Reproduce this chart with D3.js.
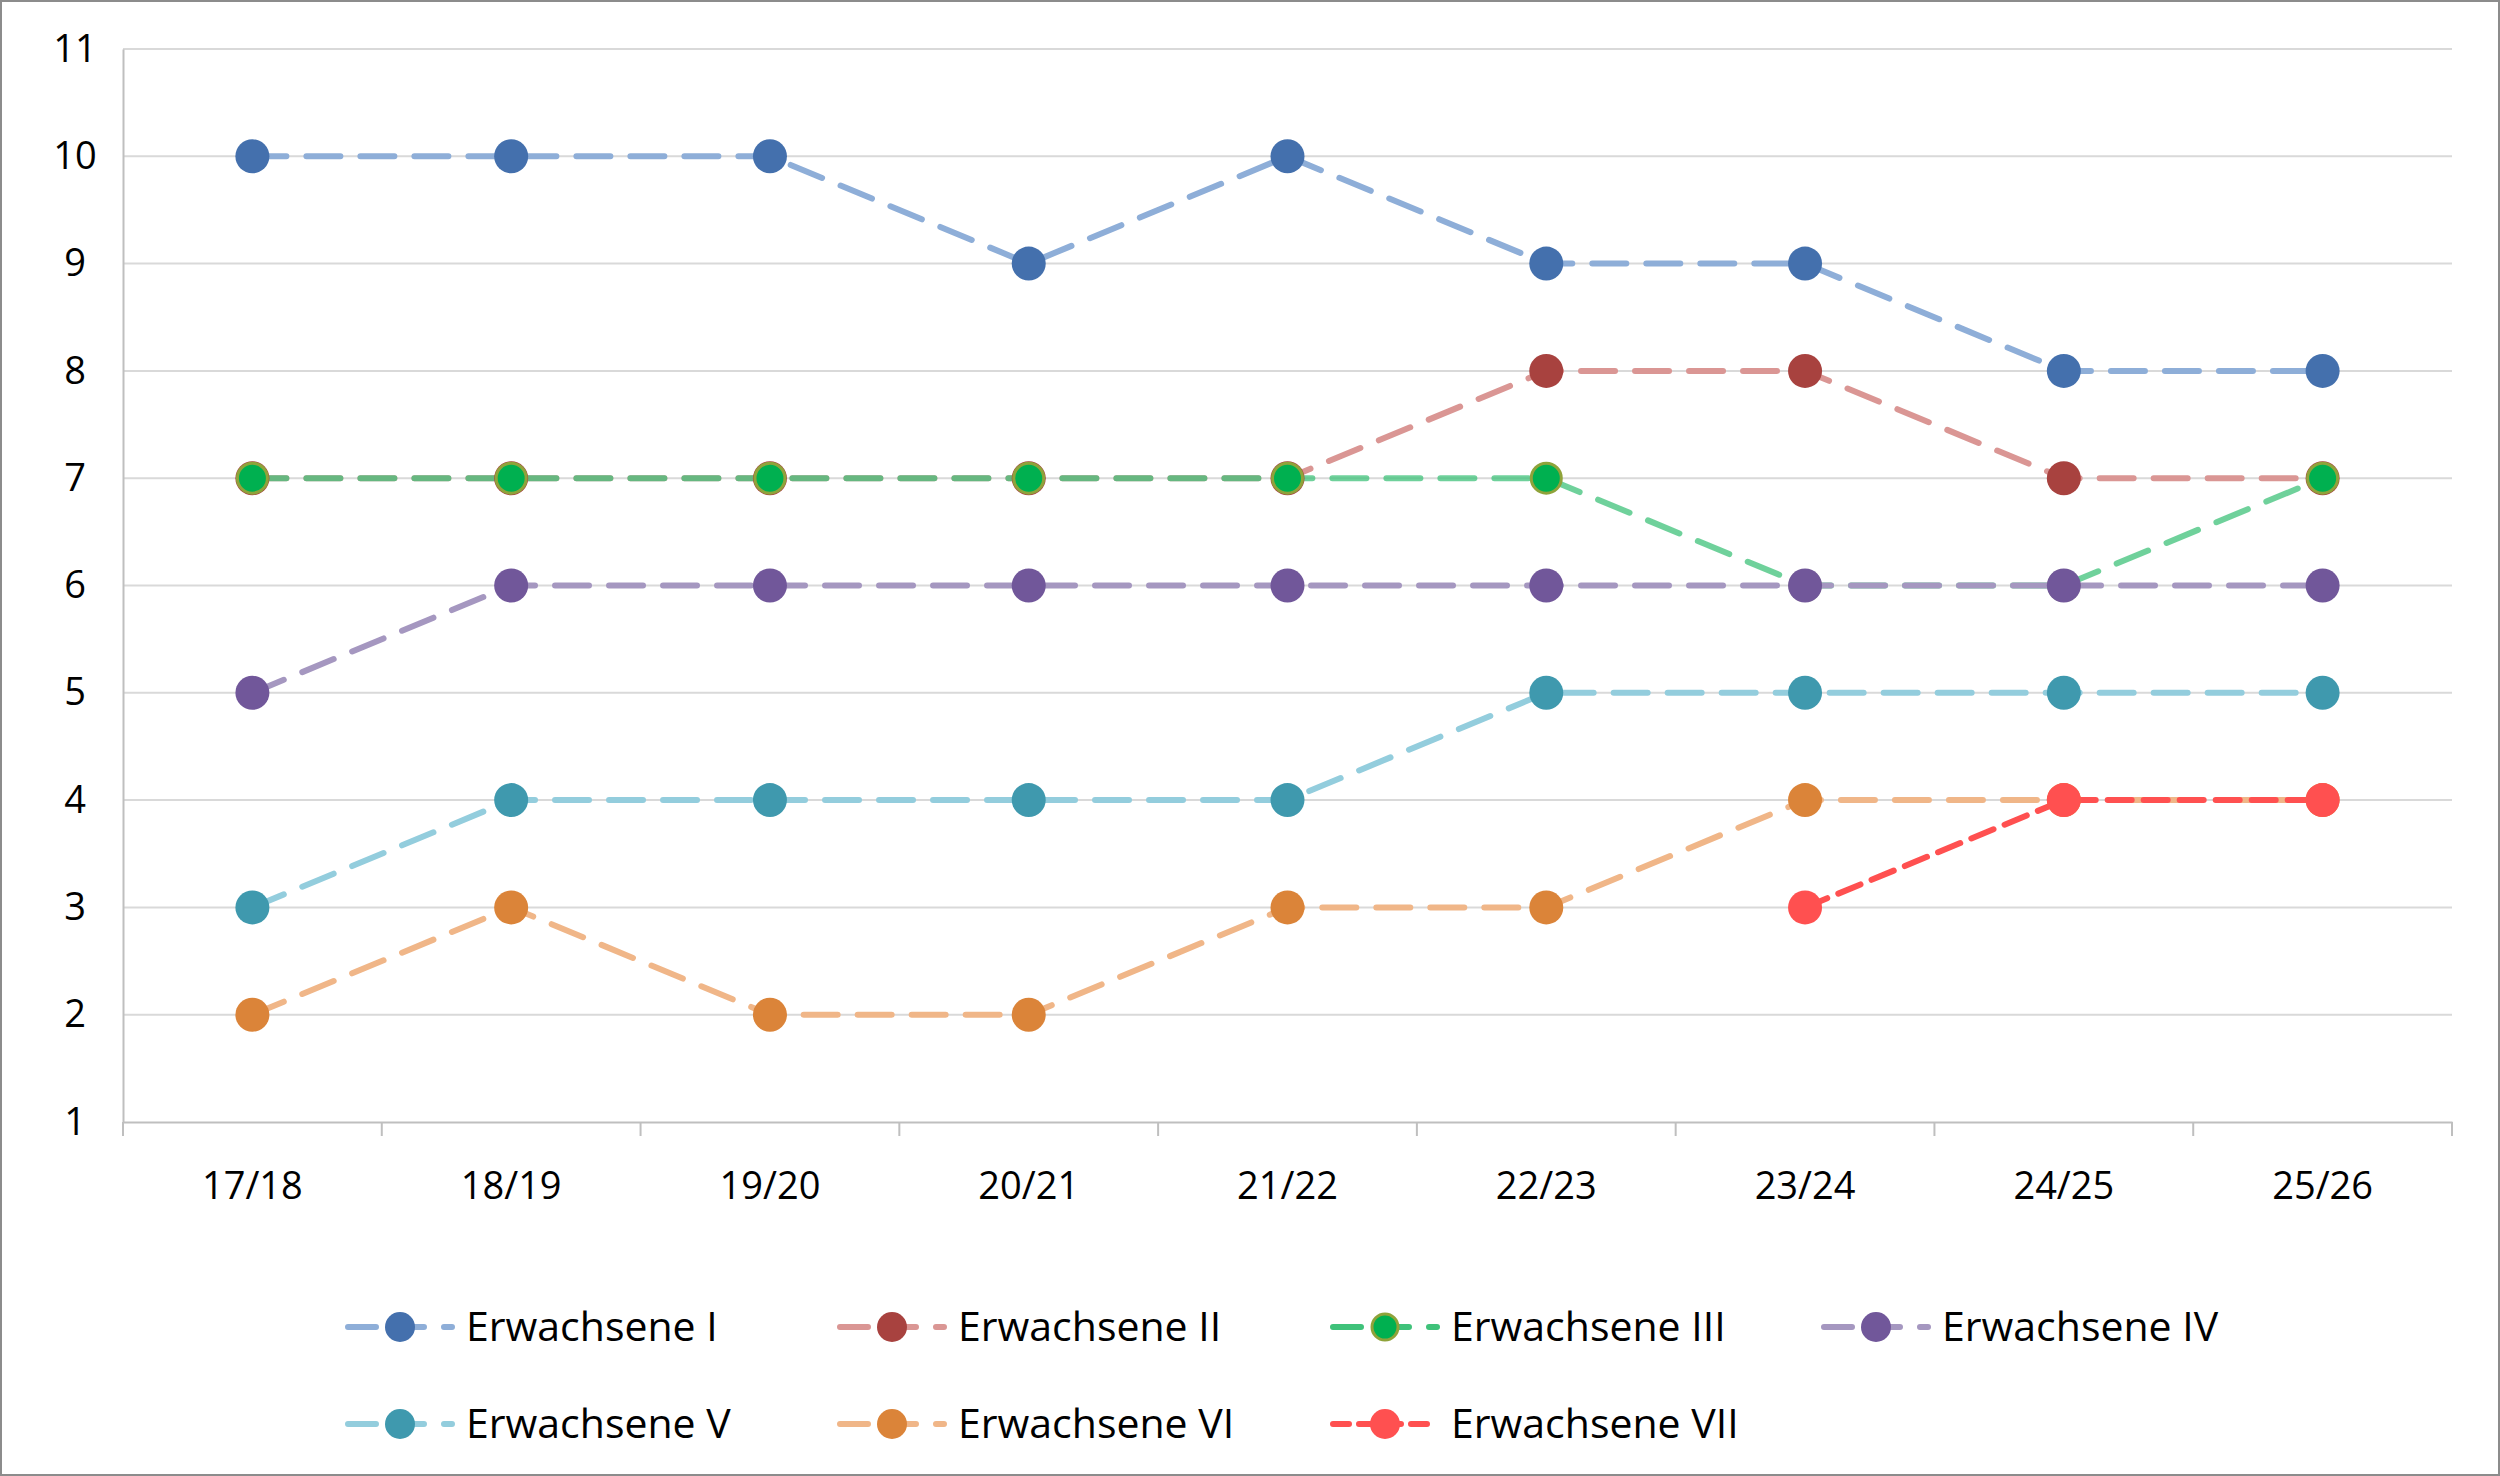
<!DOCTYPE html>
<html><head><meta charset="utf-8">
<script src="https://cdn.jsdelivr.net/npm/d3@7"></script>
<style>body{margin:0;background:#fff}svg{display:block;font-family:"Open Sans",sans-serif}</style>
</head><body><svg id="c" width="2500" height="1476"></svg>
<script>
var seasons = ["17/18","18/19","19/20","20/21","21/22","22/23","23/24","24/25","25/26"];
var names = ["Erwachsene I","Erwachsene II","Erwachsene III","Erwachsene IV","Erwachsene V","Erwachsene VI","Erwachsene VII"];
var valsI   = [10,10,10,9,10,9,9,8,8];
var valsII  = [7,7,7,7,7,8,8,7,7];
var valsIII = [7,7,7,7,7,7,6,6,7];
var valsIV  = [5,6,6,6,6,6,6,6,6];
var valsV   = [3,4,4,4,4,5,5,5,5];
var valsVI  = [2,3,2,2,3,3,4,4,4];
var valsVII = [null,null,null,null,null,null,3,4,4];
var yTicks = [1,2,3,4,5,6,7,8,9,10,11];

var series = [
  {name:names[0], v:valsI,   line:"#8eaed8", dot:"#4470ad"},
  {name:names[1], v:valsII,  line:"#da9694", dot:"#a8423f"},
  {name:names[2], v:valsIII, line:"#3fc27a", dot:"#00b050", stroke:"#8fa33a", op:0.75},
  {name:names[3], v:valsIV,  line:"#a597c0", dot:"#71579a"},
  {name:names[4], v:valsV,   line:"#93cddd", dot:"#3f99ae"},
  {name:names[5], v:valsVI,  line:"#f0b688", dot:"#db8439"},
  {name:names[6], v:valsVII, line:"#ff5050", dot:"#ff5050", dash:"24,12"}
];

var svg = d3.select("#c");
svg.append("rect").attr("x",1).attr("y",1).attr("width",2498).attr("height",1474)
  .attr("fill","#fff").attr("stroke","#8c8c8c").attr("stroke-width",2);

var L=123, R=2452, T=49, B=1122;
var x = d3.scaleBand().domain(seasons).range([L,R]);
var y = d3.scaleLinear().domain([1,11]).range([B,T]);

svg.append("g").selectAll("line").data(yTicks.slice(1)).join("line")
  .attr("x1",L).attr("x2",R).attr("y1",d=>y(d)).attr("y2",d=>y(d))
  .attr("stroke","#d9d9d9").attr("stroke-width",2);

var ya = svg.append("g").attr("transform","translate("+L+",0)")
  .call(d3.axisLeft(y).tickValues(yTicks).tickSize(0).tickPadding(44))
  .attr("font-family","Open Sans");
ya.select(".domain").attr("stroke","#bfbfbf").attr("stroke-width",2);
ya.selectAll("text").attr("font-size",38).attr("fill","#000").attr("text-anchor","middle").attr("dx",-4);

var xa = svg.append("g").attr("transform","translate(0,"+B+")")
  .call(d3.axisBottom(x).tickSize(0).tickPadding(50))
  .attr("font-family","Open Sans");
xa.select(".domain").attr("stroke","#bfbfbf").attr("stroke-width",2);
xa.selectAll("text").attr("font-size",38).attr("fill","#000");
xa.selectAll(".sep").data(seasons.concat(["end"])).join("line").attr("class","sep")
  .attr("x1",(d,i)=>L+i*x.bandwidth()).attr("x2",(d,i)=>L+i*x.bandwidth())
  .attr("y1",0).attr("y2",14).attr("stroke","#bfbfbf").attr("stroke-width",2);

var cx = d=>x(d.s)+x.bandwidth()/2;
var line = d3.line().defined(d=>d.v!=null).x(cx).y(d=>y(d.v));

series.forEach(function(s){
  var pts = s.v.map((v,i)=>({s:seasons[i],v:v}));
  svg.append("path").datum(pts).attr("d",line).attr("fill","none")
    .attr("stroke",s.line).attr("stroke-width",6).attr("stroke-linecap","round")
    .attr("stroke-dasharray",s.dash||"34,20").attr("opacity",s.op||1);
});
series.forEach(function(s){
  var pts = s.v.map((v,i)=>({s:seasons[i],v:v})).filter(d=>d.v!=null);
  svg.append("g").selectAll("circle").data(pts).join("circle")
    .attr("cx",cx).attr("cy",d=>y(d.v)).attr("r",s.stroke?15:17)
    .attr("fill",s.dot).attr("stroke",s.stroke||"none").attr("stroke-width",3);
});

var colX = [348,840,1333,1824], rowY=[1327,1424];
var lg = svg.append("g").selectAll("g").data(series).join("g")
  .attr("transform",(d,i)=>"translate("+colX[i%4]+","+rowY[Math.floor(i/4)]+")");
lg.append("line").attr("x1",0).attr("x2",104).attr("stroke",d=>d.line)
  .attr("stroke-width",6).attr("stroke-linecap","round").attr("stroke-dasharray",d=>d.dash?"16,10":"28,20");
lg.append("circle").attr("cx",52).attr("r",d=>d.stroke?13:15).attr("fill",d=>d.dot)
  .attr("stroke",d=>d.stroke||"none").attr("stroke-width",3);
lg.append("text").attr("x",118).attr("dy","0.35em").attr("font-size",41).text(d=>d.name);
</script></body></html>
